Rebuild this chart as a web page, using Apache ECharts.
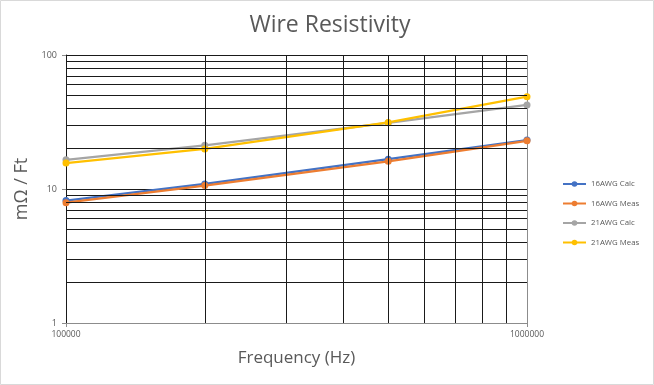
<!DOCTYPE html>
<html><head><meta charset="utf-8">
<script src="https://cdn.jsdelivr.net/npm/echarts@6/dist/echarts.min.js"></script>
<style>html,body{margin:0;padding:0;background:#fff}#c{width:654px;height:385px}</style>
</head><body><div id="c"></div>
<script>
const frequencies = [100000, 200000, 500000, 1000000];
const awg16Calc = [8.2, 10.9, 16.7, 23.2];
const awg16Meas = [7.9, 10.6, 16.1, 22.9];
const awg21Calc = [16.5, 21.2, 31.2, 42.4];
const awg21Meas = [15.6, 19.9, 31.4, 48.9];
const seriesNames = ['16AWG Calc', '16AWG Meas', '21AWG Calc', '21AWG Meas'];
const xMinorGrid = [200000, 300000, 400000, 500000, 600000, 700000, 800000, 900000];
const yMinorGrid = [2, 3, 4, 5, 6, 7, 8, 9, 20, 30, 40, 50, 60, 70, 80, 90];

const colors = ['#4472C4', '#ED7D31', '#A5A5A5', '#FFC000'];
const values = [awg16Calc, awg16Meas, awg21Calc, awg21Meas];
const txt = '#595959';
const font = 'Open Sans';

const chart = echarts.init(document.getElementById('c'), null, {renderer: 'canvas'});
const gridLine = {color: '#1a1a1a', width: 1, type: 'solid'};
const lineSeries = seriesNames.map((n, i) => ({
  name: n, type: 'line', z: 3,
  data: frequencies.map((f, j) => [f, values[i][j]]),
  symbol: 'circle', symbolSize: 7,
  lineStyle: {color: colors[i], width: 2.25},
  itemStyle: {color: colors[i]},
  emphasis: {disabled: true}
}));
const gridSeries = {
  name: 'grid', type: 'line', data: [], z: 1, silent: true,
  markLine: {
    silent: true, symbol: ['none', 'none'], label: {show: false},
    lineStyle: gridLine, animation: false,
    data: xMinorGrid.map(v => ({xAxis: v})).concat(yMinorGrid.map(v => ({yAxis: v})))
  }
};
chart.setOption({
  animation: false,
  color: colors,
  title: {
    text: 'Wire Resistivity', left: 325, top: 9, textAlign: 'center',
    textStyle: {color: txt, fontFamily: font, fontSize: 23, fontWeight: 'normal'}
  },
  legend: {
    data: seriesNames, orient: 'vertical', left: 557, top: 175,
    itemWidth: 23, itemHeight: 7, itemGap: 11.5,
    textStyle: {color: txt, fontFamily: font, fontSize: 7.8}
  },
  grid: {left: 66, right: 127, top: 55, bottom: 62, containLabel: false},
  xAxis: {
    type: 'log', logBase: 10, min: 100000, max: 1000000,
    name: 'Frequency (Hz)', nameLocation: 'middle', nameGap: 27,
    nameTextStyle: {color: txt, fontFamily: font, fontSize: 17},
    axisLine: {show: true, onZero: false, lineStyle: {color: '#8c8c8c', width: 1}},
    axisTick: {show: true, length: 4, lineStyle: {color: '#8c8c8c'}},
    axisLabel: {color: txt, fontFamily: font, fontSize: 8.5, margin: 7,
      formatter: v => String(Math.round(v))},
    splitLine: {show: true, lineStyle: {color: '#8c8c8c', width: 1}}
  },
  yAxis: {
    type: 'log', logBase: 10, min: 1, max: 100,
    name: 'mΩ / Ft', nameLocation: 'middle', nameGap: 30,
    nameTextStyle: {color: txt, fontFamily: font, fontSize: 18},
    axisLine: {show: true, lineStyle: {color: '#1a1a1a', width: 1}},
    axisTick: {show: true, length: 4, lineStyle: {color: '#8c8c8c'}},
    axisLabel: {color: txt, fontFamily: font, fontSize: 9, margin: 9,
      formatter: v => String(Math.round(v))},
    splitLine: {show: true, lineStyle: gridLine}
  },
  graphic: [{
    type: 'rect', shape: {x: 0.5, y: 0.5, width: 653, height: 384},
    style: {fill: 'none', stroke: '#d9d9d9', lineWidth: 1}, silent: true, z: -10
  }],
  series: [gridSeries].concat(lineSeries)
});
</script></body></html>
